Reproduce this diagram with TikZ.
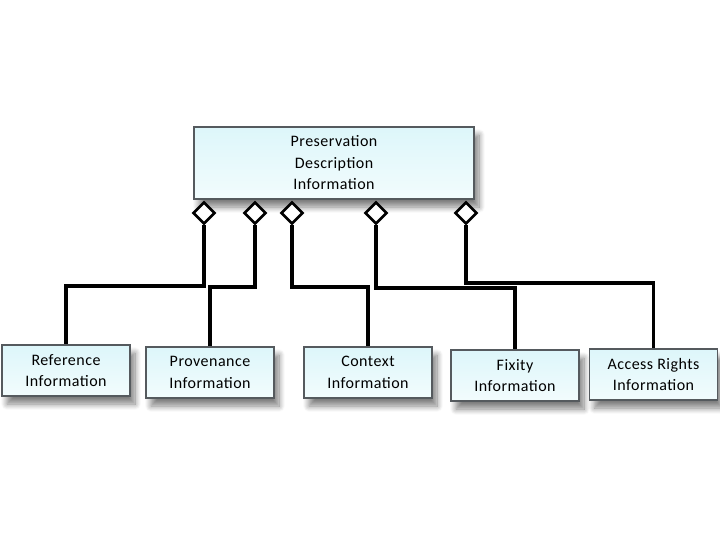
\documentclass[tikz,border=0pt]{standalone}
\usepackage{fontspec}
\setmainfont[LetterSpace=3]{Carlito}
\usetikzlibrary{shapes.geometric,shadows.blur}
\definecolor{boxtop}{HTML}{DDF6FA}
\definecolor{boxbot}{HTML}{F2FCFD}
\definecolor{boxline}{HTML}{555A5E}
\begin{document}
\begin{tikzpicture}[x=1pt, y=-1pt,
infobox/.style={rectangle, draw=boxline, line width=1.6pt, top color=boxtop, bottom color=boxbot,
  align=center, inner sep=0pt, font=\fontsize{16}{21.5}\selectfont,
  blur shadow={shadow xshift=5pt, shadow yshift=-8pt, shadow blur radius=6pt, shadow blur steps=10, shadow opacity=50}},
aggr/.style={diamond, draw=black, line width=2.6pt, fill=white, inner sep=0pt, minimum width=22pt, minimum height=22pt},
link/.style={draw=black, line width=3.6pt},
]
\useasboundingbox (0,0) rectangle (720,540);
% the whole
\node[infobox, minimum width=280pt, minimum height=72pt] (pdi) at (334,163) {Preservation\\Description\\Information};
% the parts
\node[infobox, minimum width=128pt, minimum height=51pt] (ref) at (66,370.5) {Reference\\Information};
\node[infobox, minimum width=128pt, minimum height=51pt] (prov) at (210,372.5) {Provenance\\Information};
\node[infobox, minimum width=128pt, minimum height=51pt] (ctx) at (368,372.5) {Context\\Information};
\node[infobox, minimum width=128pt, minimum height=51pt] (fix) at (515,375.5) {Fixity\\Information};
\node[infobox, minimum width=128pt, minimum height=51pt] (acc) at (653.5,374.5) {Access Rights\\Information};
% diamonds
\node[aggr] (dRef) at (204,213) {};
\node[aggr] (dProv) at (255,213) {};
\node[aggr] (dCtx) at (292,213) {};
\node[aggr] (dFix) at (376,213) {};
\node[aggr] (dAcc) at (466,213) {};
% aggregation lines
\draw[link] (dRef.south) -- (dRef.south |- 0,286) -| (ref.north);
\draw[link] (dProv.south) -- (dProv.south |- 0,287) -| (prov.north);
\draw[link] (dCtx.south) -- (dCtx.south |- 0,287) -| (ctx.north);
\draw[link] (dFix.south) -- (dFix.south |- 0,288) -| (fix.north);
\draw[link] (dAcc.south) -- (dAcc.south |- 0,283) -| (acc.north);
\end{tikzpicture}
\end{document}
